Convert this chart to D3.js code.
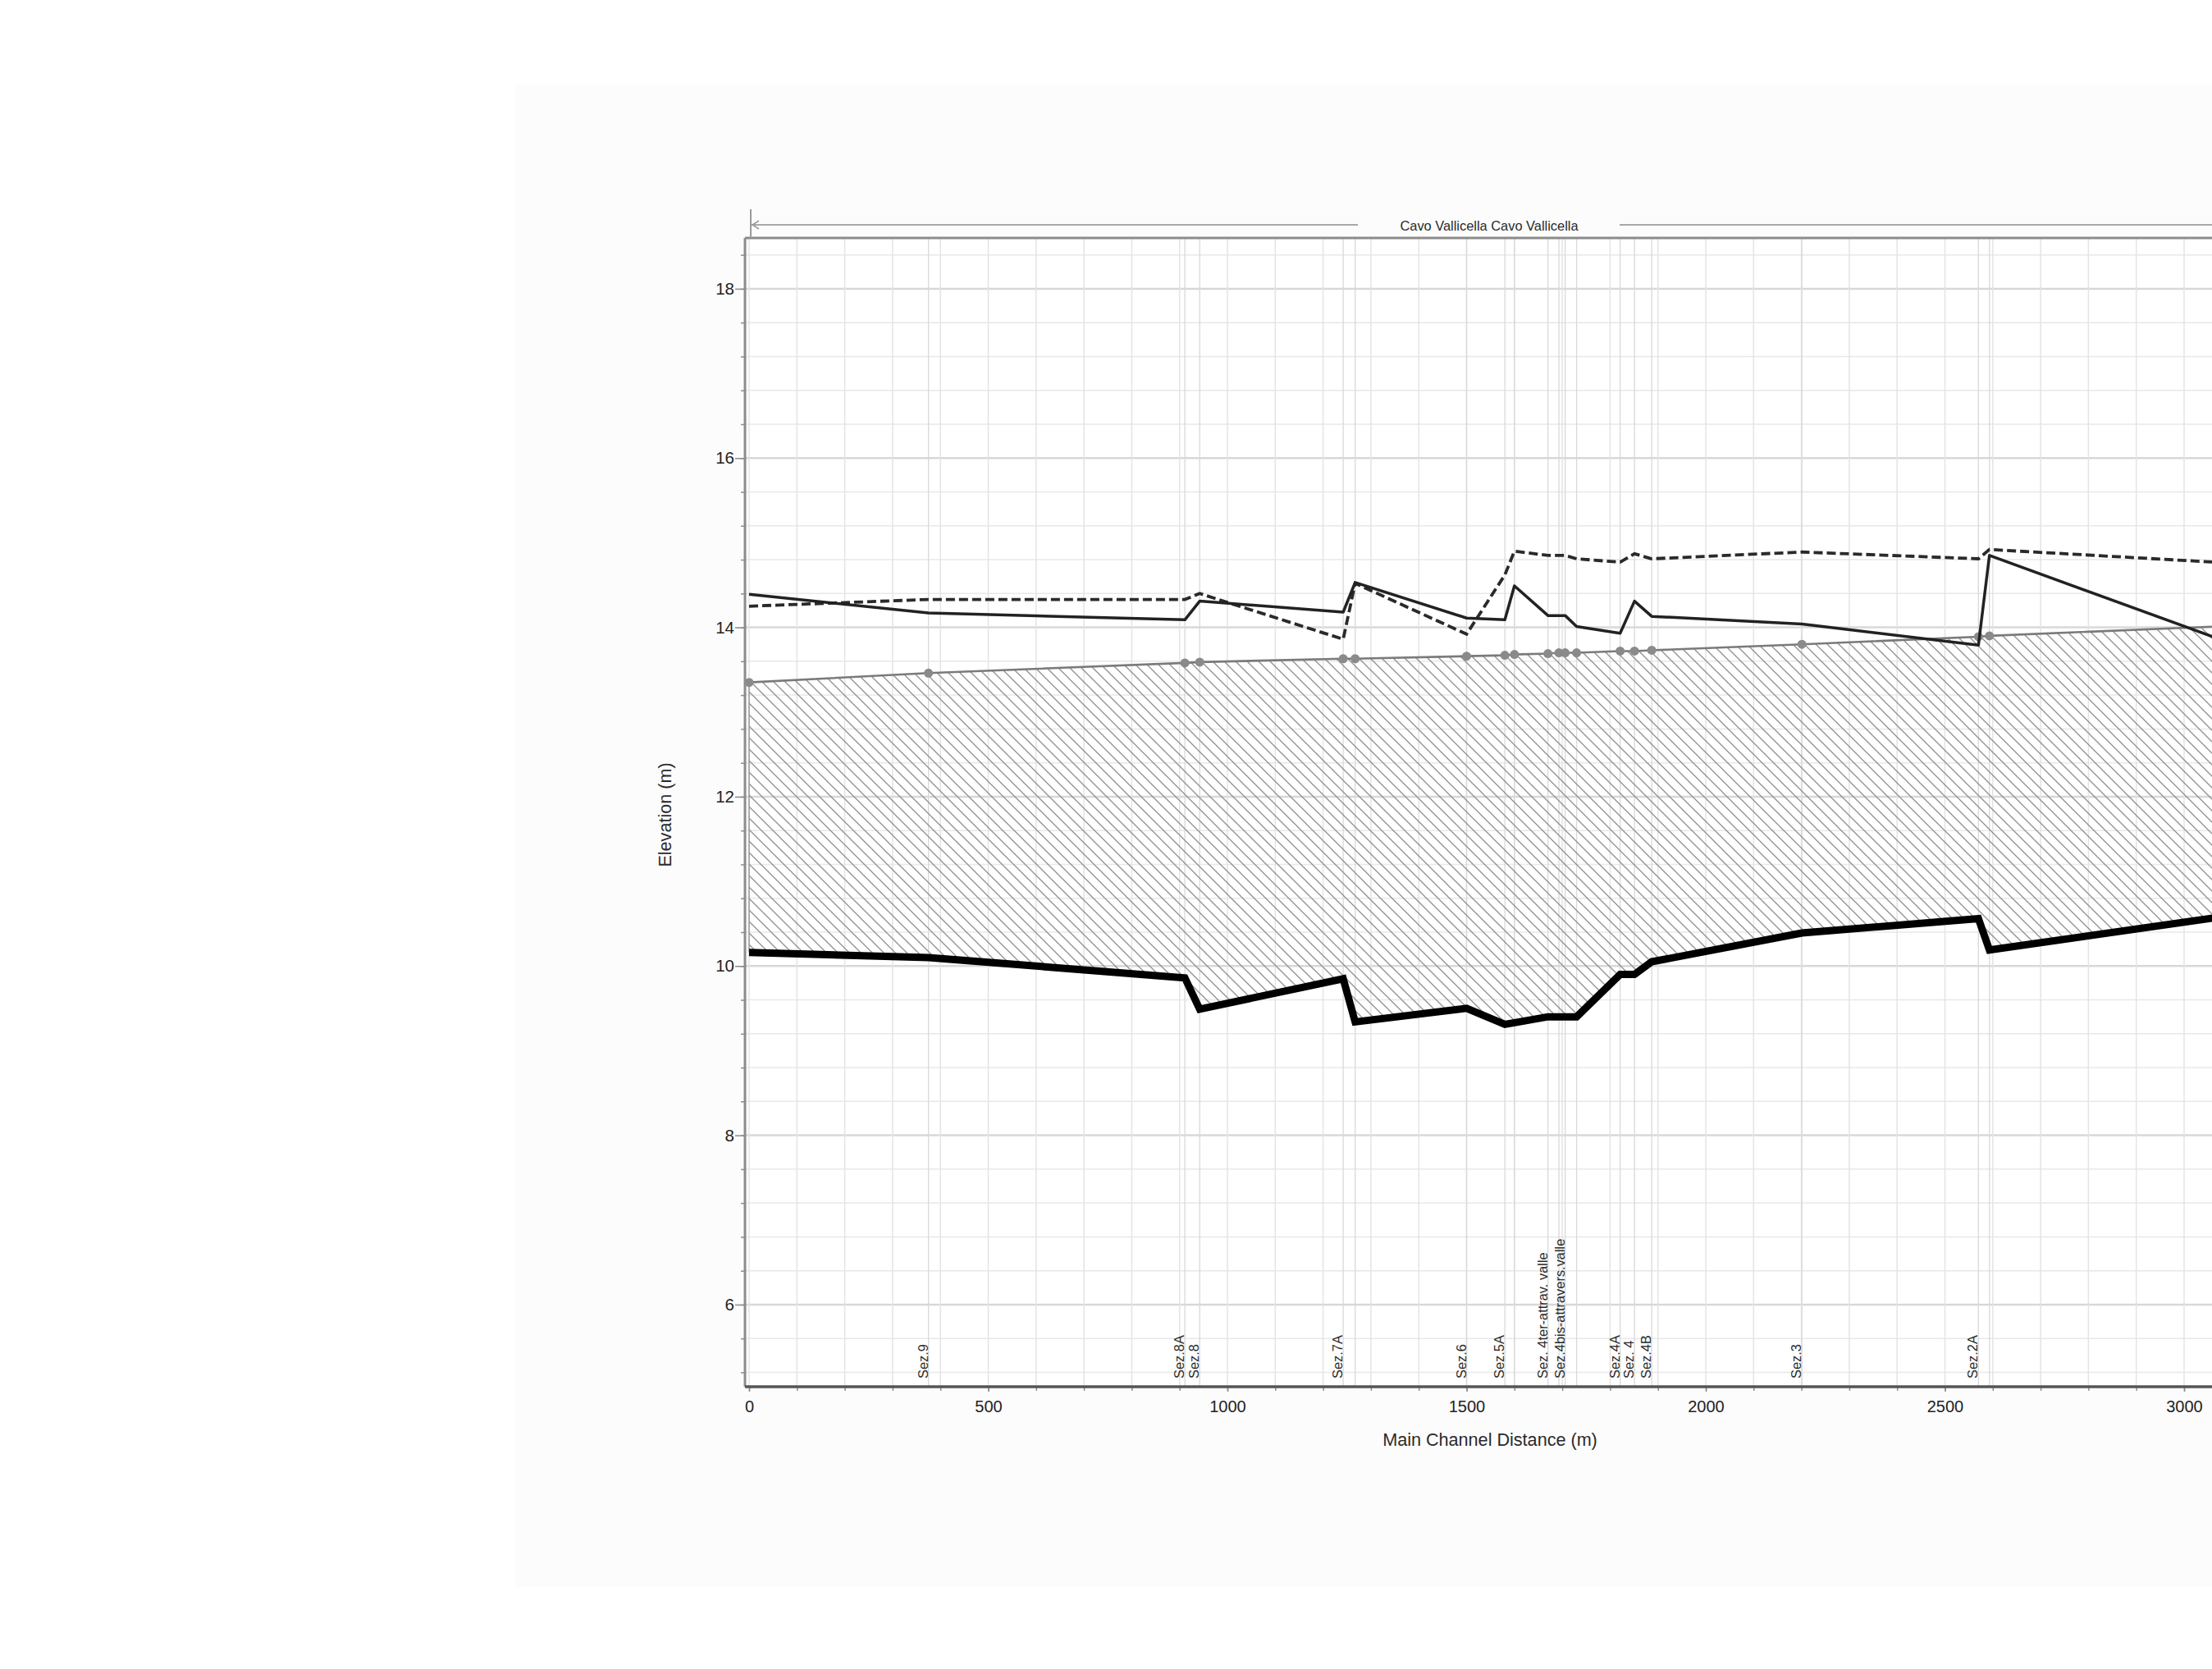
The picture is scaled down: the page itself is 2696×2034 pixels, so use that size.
<!DOCTYPE html>
<html>
<head>
<meta charset="utf-8">
<script src="https://cdn.jsdelivr.net/npm/d3@7"></script>
<style>
  body { margin: 0; background: #ffffff; overflow: hidden; }
  svg { display: block; font-family: "Liberation Sans", Arial, sans-serif; }
</style>
</head>
<body>
<div id="profile"></div>
<script>
// river stations (m) and elevations (m)
var stations = [0, 375, 911, 942, 1242, 1267, 1500, 1580, 1600, 1670, 1693, 1706, 1730, 1821, 1851, 1887, 2201, 2570, 2593, 3065];
var bedElev  = [10.16, 10.10, 9.86, 9.49, 9.85, 9.34, 9.50, 9.31, 9.33, 9.40, 9.40, 9.40, 9.40, 9.90, 9.90, 10.05, 10.39, 10.56, 10.19, 10.57];
var bankElev = [13.35, 13.46, 13.58, 13.59, 13.63, 13.63, 13.66, 13.67, 13.68, 13.69, 13.70, 13.70, 13.70, 13.72, 13.72, 13.73, 13.80, 13.89, 13.90, 14.01];
var wsSolid  = [14.39, 14.17, 14.09, 14.31, 14.18, 14.53, 14.11, 14.09, 14.49, 14.14, 14.14, 14.14, 14.01, 13.93, 14.31, 14.13, 14.04, 13.79, 14.85, 13.88];
var wsDashed = [14.25, 14.33, 14.33, 14.40, 13.86, 14.52, 13.92, 14.62, 14.90, 14.85, 14.85, 14.85, 14.81, 14.77, 14.87, 14.81, 14.89, 14.81, 14.92, 14.77];

// the last station is just where the picture is cut, no marker there
var markerCount = 19;

var secNames = ["Sez.9", "Sez.8A", "Sez.8", "Sez.7A", "Sez.6", "Sez.5A", "Sez. 4ter-attrav. valle", "Sez.4bis-attravers.valle", "Sez.4A", "Sez. 4", "Sez.4B", "Sez.3", "Sez.2A"];
var secDist  = [375, 911, 942, 1242, 1500, 1580, 1670, 1706, 1821, 1851, 1887, 2201, 2570];

var xTicks = [0, 500, 1000, 1500, 2000, 2500, 3000];
var yTicks = [6, 8, 10, 12, 14, 16, 18];
var reachTitle = "Cavo Vallicella Cavo Vallicella";

var W = 2696, H = 2034;
var plotLeft = 908, plotTop = 290, plotBottom = 1690;

var svg = d3.select("#profile")
  .append("svg")
  .attr("width", W)
  .attr("height", H);

// faint backing sheet of the pasted picture
svg.append("rect").attr("x", 628).attr("y", 103).attr("width", W - 628).attr("height", 1831).attr("fill", "#fcfcfc");
svg.append("rect").attr("x", plotLeft).attr("y", plotTop).attr("width", W - plotLeft).attr("height", plotBottom - plotTop).attr("fill", "#ffffff");

var x = d3.scaleLinear()
  .domain([0, 3000])
  .range([913, 913 + 0.583 * 3000]);

var y = d3.scaleLinear()
  .domain([5.03, 18.6])
  .range([plotBottom, plotTop]);

var defs = svg.append("defs");
defs.append("clipPath").attr("id", "plotclip")
  .append("rect").attr("x", plotLeft).attr("y", plotTop).attr("width", W - plotLeft).attr("height", plotBottom - plotTop);

// hatch pattern
defs.append("pattern")
  .attr("id", "hatch")
  .attr("patternUnits", "userSpaceOnUse")
  .attr("width", 14).attr("height", 14)
  .append("path")
  .attr("d", "M0,0 L14,14 M-7,7 L7,21 M7,-7 L21,7")
  .attr("stroke", "#8f8f8f")
  .attr("stroke-width", 1.3);

var plot = svg.append("g").attr("clip-path", "url(#plotclip)");

// grid
var xMinor = d3.range(0, 3201, 100);
var yMinor = d3.range(5.2, 18.61, 0.4);
function isMajorY(d){ return Math.abs(d - Math.round(d)) < 0.01 && Math.round(d) % 2 == 0; }

plot.selectAll("hgrid").data(yMinor).enter().append("line")
  .attr("x1", plotLeft).attr("x2", W)
  .attr("y1", function(d){ return y(d); }).attr("y2", function(d){ return y(d); })
  .attr("stroke", function(d){ return isMajorY(d) ? "#d8d8d8" : "#e8e8e8"; })
  .attr("stroke-width", function(d){ return isMajorY(d) ? 2.5 : 1.5; });

plot.selectAll("vgrid").data(xMinor).enter().append("line")
  .attr("x1", function(d){ return x(d); }).attr("x2", function(d){ return x(d); })
  .attr("y1", plotTop).attr("y2", plotBottom)
  .attr("stroke", "#e4e4e4")
  .attr("stroke-width", 1.5);

// section lines
plot.selectAll("secline").data(stations.slice(1, markerCount)).enter().append("line")
  .attr("x1", function(d){ return x(d); }).attr("x2", function(d){ return x(d); })
  .attr("y1", plotTop).attr("y2", plotBottom)
  .attr("stroke", "#d9d9d9")
  .attr("stroke-width", 1.3);

var pts = stations.map(function(d, i){
  return {x: d, bed: bedElev[i], bank: bankElev[i], ws: wsSolid[i], ws2: wsDashed[i]};
});

// hatched band between bank line and bed
plot.append("path")
  .datum(pts)
  .attr("d", d3.area()
    .x(function(d){ return x(d.x); })
    .y0(function(d){ return y(d.bed); })
    .y1(function(d){ return y(d.bank); }))
  .attr("fill", "url(#hatch)");

plot.append("line")
  .attr("x1", x(0)).attr("x2", x(0))
  .attr("y1", y(bankElev[0])).attr("y2", y(bedElev[0]))
  .attr("stroke", "#9a9a9a").attr("stroke-width", 1.5);

plot.append("path")
  .datum(pts)
  .attr("d", d3.line().x(function(d){ return x(d.x); }).y(function(d){ return y(d.bank); }))
  .attr("fill", "none")
  .attr("stroke", "#7a7a7a")
  .attr("stroke-width", 2.6);

plot.selectAll("bankdot").data(pts.slice(0, markerCount)).enter().append("circle")
  .attr("cx", function(d){ return x(d.x); })
  .attr("cy", function(d){ return y(d.bank); })
  .attr("r", 5.5)
  .attr("fill", "#8a8a8a");

plot.append("path")
  .datum(pts)
  .attr("d", d3.line().x(function(d){ return x(d.x); }).y(function(d){ return y(d.ws2); }))
  .attr("fill", "none")
  .attr("stroke", "#2a2a2a")
  .attr("stroke-width", 3.8)
  .attr("stroke-dasharray", "11,5");

plot.append("path")
  .datum(pts)
  .attr("d", d3.line().x(function(d){ return x(d.x); }).y(function(d){ return y(d.ws); }))
  .attr("fill", "none")
  .attr("stroke", "#222222")
  .attr("stroke-width", 3.5)
  .attr("stroke-linejoin", "round");

plot.append("path")
  .datum(pts)
  .attr("d", d3.line().x(function(d){ return x(d.x); }).y(function(d){ return y(d.bed); }))
  .attr("fill", "none")
  .attr("stroke", "#000000")
  .attr("stroke-width", 9)
  .attr("stroke-linejoin", "miter");

// section labels, rotated, sitting on the bottom
plot.selectAll("seclabel").data(secNames).enter().append("text")
  .attr("transform", function(d, i){ return "translate(" + (x(secDist[i]) - 1) + "," + 1680 + ") rotate(-90)"; })
  .attr("text-anchor", "start")
  .style("font-size", "16.4px")
  .attr("fill", "#2a2a2a")
  .text(function(d){ return d; });

// frame
svg.append("line").attr("x1", plotLeft).attr("x2", W).attr("y1", plotTop).attr("y2", plotTop)
  .attr("stroke", "#8c8c8c").attr("stroke-width", 3);
svg.append("line").attr("x1", plotLeft).attr("x2", plotLeft).attr("y1", plotTop).attr("y2", plotBottom)
  .attr("stroke", "#8c8c8c").attr("stroke-width", 3);

// y axis
var yAxis = svg.append("g")
  .attr("transform", "translate(" + plotLeft + ",0)")
  .call(d3.axisLeft(y).tickValues(yTicks).tickSize(12).tickPadding(1).tickFormat(d3.format("d")));
yAxis.select(".domain").remove();
svg.append("g")
  .attr("transform", "translate(" + plotLeft + ",0)")
  .call(d3.axisLeft(y).tickValues(yMinor).tickSize(5).tickFormat(""))
  .call(function(g){ g.select(".domain").remove(); });
yAxis.selectAll("text").style("font-size", "20.5px").attr("fill", "#222");

// x axis
var xAxis = svg.append("g")
  .attr("transform", "translate(0," + plotBottom + ")")
  .call(d3.axisBottom(x).tickValues(xTicks).tickSize(6).tickPadding(11).tickFormat(d3.format("d")));
xAxis.select(".domain").remove();
svg.append("g")
  .attr("transform", "translate(0," + plotBottom + ")")
  .call(d3.axisBottom(x).tickValues(xMinor).tickSize(5).tickFormat(""))
  .call(function(g){ g.select(".domain").remove(); });
svg.append("line").attr("x1", plotLeft).attr("x2", W).attr("y1", plotBottom).attr("y2", plotBottom)
  .attr("stroke", "#555").attr("stroke-width", 3.5);
svg.selectAll(".tick line").attr("stroke", "#8c8c8c").attr("stroke-width", 1.5);
xAxis.selectAll("text").style("font-size", "20px").attr("fill", "#222");

// axis titles
svg.append("text")
  .attr("x", 1816).attr("y", 1762)
  .attr("text-anchor", "middle")
  .style("font-size", "21.6px")
  .attr("fill", "#2a2a2a")
  .text("Main Channel Distance (m)");

svg.append("text")
  .attr("transform", "translate(818,993) rotate(-90)")
  .attr("text-anchor", "middle")
  .style("font-size", "21.6px")
  .attr("fill", "#2a2a2a")
  .text("Elevation (m)");

// reach title with arrow bar
svg.append("line").attr("x1", 915).attr("x2", 915).attr("y1", 255).attr("y2", 290)
  .attr("stroke", "#9a9a9a").attr("stroke-width", 2);
svg.append("line").attr("x1", 916).attr("x2", 1655).attr("y1", 274).attr("y2", 274)
  .attr("stroke", "#a8a8a8").attr("stroke-width", 2);
svg.append("path").attr("d", "M925,269 L917,274 L925,279")
  .attr("fill", "none").attr("stroke", "#9a9a9a").attr("stroke-width", 1.5);
svg.append("line").attr("x1", 1974).attr("x2", W).attr("y1", 274).attr("y2", 274)
  .attr("stroke", "#a8a8a8").attr("stroke-width", 2);
svg.append("text")
  .attr("x", 1815).attr("y", 281)
  .attr("text-anchor", "middle")
  .style("font-size", "16.4px")
  .attr("fill", "#2a2a2a")
  .text(reachTitle);
</script>
</body>
</html>
